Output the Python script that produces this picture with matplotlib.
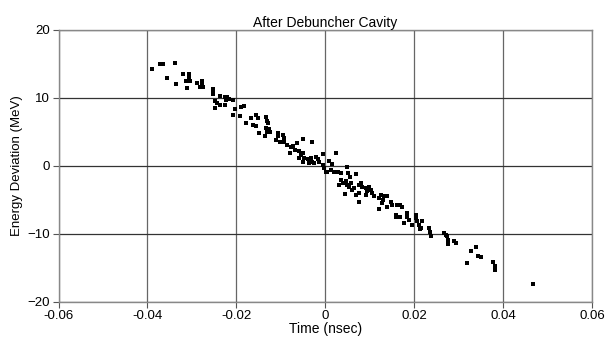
import matplotlib.pyplot as plt

plt.rcParams['font.family'] = ['Liberation Sans', 'DejaVu Sans']

# time (nsec) and energy deviation (MeV)
time_nsec = [
    -0.0390, -0.0371, -0.0364, -0.0339, -0.0357, -0.0335, -0.0319, -0.0306, -0.0306, -0.0313,
    -0.0304, -0.0311, -0.0289, -0.0277, -0.0277, -0.0281, -0.0276, -0.0253,
    -0.0252, -0.0252, -0.0237, -0.0225, -0.0220, -0.0217, -0.0223, -0.0208, -0.0248, -0.0244,
    -0.0237, -0.0225, -0.0248, -0.0203, -0.0189, -0.0182, -0.0207, -0.0192, -0.0178, -0.0166,
    -0.0156, -0.0152, -0.0163, -0.0156, -0.0150, -0.0133, -0.0131, -0.0128, -0.0133, -0.0126,
    -0.0131, -0.0124, -0.0135,
    -0.0107, -0.0107, -0.0096, -0.0092, -0.0092, -0.0111, -0.0102, -0.0085, -0.0077, -0.0073,
    -0.0064, -0.0049, -0.0030, -0.0079, -0.0067, -0.0058, -0.0055, -0.0051, -0.0058, -0.0047,
    -0.0051, -0.0038, -0.0032, -0.0036, -0.0029, -0.0021, -0.0017, -0.0025, -0.0013, -0.0004,
    -0.0006, -0.0002, 0.0002, 0.0005, 0.0024,
    0.0009, 0.0016, 0.0013, 0.0020, 0.0028, 0.0035, 0.0048, 0.0052, 0.0055, 0.0069,
    0.0035, 0.0039, 0.0031, 0.0047, 0.0050, 0.0054, 0.0058, 0.0061, 0.0065, 0.0045,
    0.0069, 0.0075, 0.0076, 0.0080, 0.0082, 0.0091, 0.0095, 0.0099, 0.0103, 0.0105,
    0.0110, 0.0091, 0.0120, 0.0075,
    0.0125, 0.0133, 0.0138, 0.0129, 0.0127, 0.0148, 0.0150, 0.0121, 0.0140, 0.0162,
    0.0168, 0.0172, 0.0159, 0.0159, 0.0168, 0.0178, 0.0183, 0.0185, 0.0189, 0.0196,
    0.0204, 0.0205, 0.0207, 0.0211, 0.0215, 0.0213, 0.0217, 0.0234, 0.0235, 0.0238,
    0.0267, 0.0271, 0.0273, 0.0275, 0.0275, 0.0290, 0.0294, 0.0327, 0.0339, 0.0344,
    0.0350, 0.0318, 0.0378, 0.0382, 0.0382, 0.0382, 0.0468,
]
energy_mev = [
    14.2, 14.9, 14.9, 15.1, 12.9, 12.0, 13.4, 13.4, 13.0, 12.4,
    12.4, 11.4, 12.2, 12.5, 12.1, 11.5, 11.5, 11.2,
    10.9, 10.5, 10.3, 10.1, 10.1, 9.8, 9.7, 9.7, 9.5, 9.2,
    8.9, 8.9, 8.5, 8.3, 8.6, 8.8, 7.4, 7.3, 6.3, 7.0,
    7.5, 7.0, 5.9, 5.8, 4.8, 7.1, 6.6, 6.3, 5.5, 5.4,
    5.0, 4.9, 4.3,
    4.8, 4.3, 4.5, 4.0, 3.5, 3.8, 3.5, 3.1, 2.8, 2.9,
    3.3, 3.9, 3.5, 1.8, 2.3, 2.1, 1.6, 1.8, 1.1, 1.1,
    0.6, 0.9, 1.1, 0.4, 0.6, 1.3, 0.9, 0.4, 0.5, 1.7,
    0.1, -0.4, -0.9, -1.0, 1.9,
    0.7, 0.3, -0.6, -0.9, -1.0, -1.1, -0.2, -1.1, -1.6, -1.2,
    -2.1, -2.6, -2.8, -2.3, -2.8, -3.1, -2.6, -3.6, -3.3, -4.2,
    -4.3, -4.0, -5.4, -2.6, -3.1, -3.3, -3.8, -3.1, -3.6, -4.0,
    -4.4, -4.3, -4.8, -2.8,
    -4.3, -4.5, -4.5, -5.0, -5.5, -5.3, -5.8, -6.4, -6.1, -5.8,
    -5.8, -6.1, -7.2, -7.6, -7.5, -8.5, -7.0, -7.5, -8.0, -8.7,
    -7.2, -7.7, -8.2, -8.7, -9.2, -9.3, -8.2, -9.2, -9.7, -10.4,
    -9.9, -10.2, -10.4, -10.9, -11.5, -11.1, -11.3, -12.5, -12.0, -13.3,
    -13.5, -14.3, -14.1, -14.8, -15.2, -15.4, -17.4,
]

x_ticks = [-0.06, -0.04, -0.02, 0, 0.02, 0.04, 0.06]
x_labels = ['-0.06', '-0.04', '-0.02', '0', '0.02', '0.04', '0.06']
y_ticks = [-20, -10, 0, 10, 20]

fig = plt.figure(figsize=(6.05, 3.46), dpi=100)
ax = fig.add_axes([0.0967, 0.128, 0.8818, 0.7867])

ax.scatter(time_nsec, energy_mev, marker='s', s=5.5, c='black', linewidths=0, zorder=3)

ax.set_xlim(-0.06, 0.06)
ax.set_ylim(-20, 20)
ax.set_xticks(x_ticks)
ax.set_xticklabels(x_labels)
ax.set_yticks(y_ticks)

ax.grid(True, axis='x', color='#666666', linewidth=0.9)
ax.grid(True, axis='y', color='#333333', linewidth=0.9)
ax.set_axisbelow(True)
for spine in ax.spines.values():
    spine.set_color('#888888')
    spine.set_linewidth(1)

ax.tick_params(axis='both', direction='out', length=4, width=0.8, color='#555555',
               labelsize=9.5, pad=2)

ax.set_title('After Debuncher Cavity', fontsize=10, pad=2)
ax.set_xlabel('Time (nsec)', fontsize=10, labelpad=0)
ax.set_ylabel('Energy Deviation (MeV)', fontsize=9.5, labelpad=3)

fig.savefig('out.png', dpi=100)
